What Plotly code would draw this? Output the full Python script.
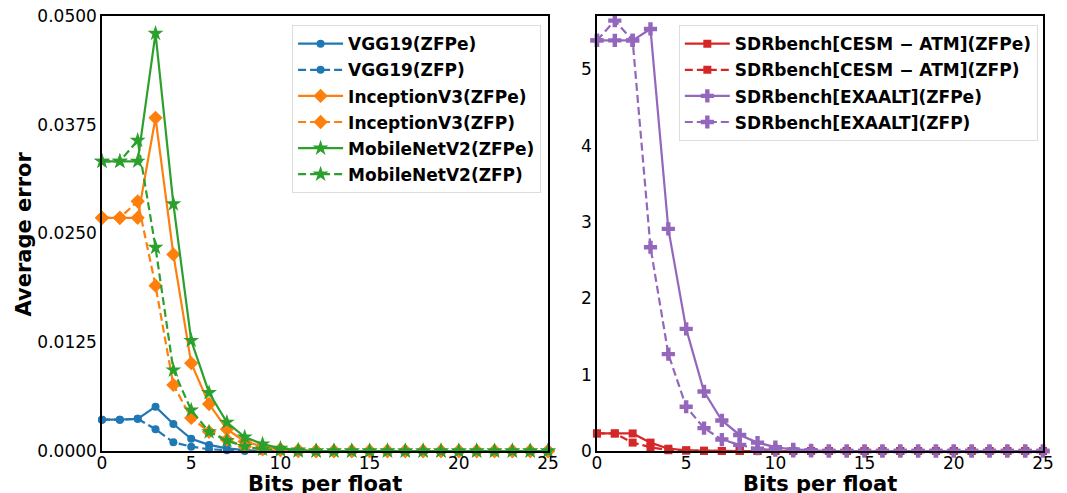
import plotly.graph_objects as go

bits = list(range(26))

vgg_zfpe = [0.0036, 0.0036, 0.0037, 0.0051, 0.0031, 0.0014, 0.0007, 0.0003, 0.0001] + [0.0] * 17
vgg_zfp = [0.0036, 0.0036, 0.0037, 0.0025, 0.0010, 0.0005, 0.0002, 0.0001] + [0.0] * 18
inc_zfpe = [0.0268, 0.0268, 0.0268, 0.0383, 0.0226, 0.0101, 0.0054, 0.0025, 0.0011, 0.0005, 0.0002, 0.0001] + [0.0] * 14
inc_zfp = [0.0268, 0.0268, 0.0287, 0.0190, 0.0076, 0.0038, 0.0022, 0.0013, 0.0005, 0.0002, 0.0001] + [0.0] * 15
mob_zfpe = [0.0333, 0.0333, 0.0333, 0.0480, 0.0284, 0.0127, 0.0067, 0.0033, 0.0016, 0.0008, 0.0003, 0.0001] + [0.0] * 14
mob_zfp = [0.0333, 0.0333, 0.0357, 0.0234, 0.0093, 0.0047, 0.0022, 0.0012, 0.0005, 0.0002, 0.0001] + [0.0] * 15

cesm_zfpe = [0.23, 0.23, 0.23, 0.11, 0.03, 0.01, 0.005] + [0.0] * 19
cesm_zfp = [0.23, 0.23, 0.11, 0.05, 0.01, 0.005] + [0.0] * 20
exa_zfpe = [5.38, 5.38, 5.38, 5.53, 2.91, 1.60, 0.78, 0.40, 0.21, 0.11, 0.05, 0.02, 0.01] + [0.0] * 13
exa_zfp = [5.38, 5.64, 5.38, 2.67, 1.27, 0.58, 0.30, 0.15, 0.08, 0.03, 0.01] + [0.0] * 15

left_ticks = [0, 0.0125, 0.025, 0.0375, 0.05]
left_ticktext = ["0.0000", "0.0125", "0.0250", "0.0375", "0.0500"]
x_ticks = [0, 5, 10, 15, 20, 25]
right_ticks = [0, 1, 2, 3, 4, 5]

BLUE, ORANGE, GREEN, RED, PURPLE = "#1f77b4", "#ff7f0e", "#2ca02c", "#d62728", "#9467bd"

fig = go.Figure()

def add(y, name, color, symbol, dash, xa, ya, legend, msize=8):
    fig.add_trace(go.Scatter(
        x=bits, y=y, name=name, mode="lines+markers", legendgroup=name,
        line=dict(color=color, width=2.2, dash=dash),
        marker=dict(color=color, symbol=symbol, size=msize, line=dict(width=0)),
        xaxis=xa, yaxis=ya, legend=legend, cliponaxis=False))

DASH = "8px,4px"
add(vgg_zfpe, "VGG19(ZFPe)", BLUE, "circle", "solid", "x", "y", "legend", 8)
add(vgg_zfp, "VGG19(ZFP)", BLUE, "circle", DASH, "x", "y", "legend", 8)
add(inc_zfpe, "InceptionV3(ZFPe)", ORANGE, "diamond", "solid", "x", "y", "legend", 11)
add(inc_zfp, "InceptionV3(ZFP)", ORANGE, "diamond", DASH, "x", "y", "legend", 11)
add(mob_zfpe, "MobileNetV2(ZFPe)", GREEN, "star", "solid", "x", "y", "legend", 12)
add(mob_zfp, "MobileNetV2(ZFP)", GREEN, "star", DASH, "x", "y", "legend", 12)

add(cesm_zfpe, "SDRbench[CESM − ATM](ZFPe)", RED, "square", "solid", "x2", "y2", "legend2", 8)
add(cesm_zfp, "SDRbench[CESM − ATM](ZFP)", RED, "square", DASH, "x2", "y2", "legend2", 8)
add(exa_zfpe, "SDRbench[EXAALT](ZFPe)", PURPLE, "cross", "solid", "x2", "y2", "legend2", 11)
add(exa_zfp, "SDRbench[EXAALT](ZFP)", PURPLE, "cross", DASH, "x2", "y2", "legend2", 11)

axis_common = dict(showline=True, linecolor="black", linewidth=1.5, mirror=True,
                   ticks="", ticklabeloverflow="allow", showgrid=False,
                   zeroline=False, automargin=False,
                   tickfont=dict(size=17, color="black", family="DejaVu Sans"))

title_font = dict(size=21, family="DejaVu Sans", color="black", weight="bold")
legend_font = dict(size=17, family="DejaVu Sans", color="black", weight="bold")

# page body has an 8px margin, so the figure is sized and placed to compensate
fig.update_layout(
    width=1059, height=485,
    margin=dict(l=94, r=24, t=8, b=42),
    paper_bgcolor="white", plot_bgcolor="white",
    font=dict(family="DejaVu Sans", color="black"),
    xaxis=dict(domain=[0, 0.474], range=[0, 25], tickvals=x_ticks, ticklabelstandoff=-4, **axis_common),
    yaxis=dict(domain=[0, 1], range=[0, 0.05], tickvals=left_ticks, ticktext=left_ticktext,
               ticklabelstandoff=0, **axis_common),
    xaxis2=dict(domain=[0.526, 1], range=[0, 25], tickvals=x_ticks, anchor="y2",
                ticklabelstandoff=-4, **axis_common),
    yaxis2=dict(domain=[0, 1], range=[0, 5.7], tickvals=right_ticks, anchor="x2",
                ticklabelstandoff=0, **axis_common),
    legend=dict(x=0.202, y=0.979, xref="paper", yref="paper", xanchor="left", yanchor="top",
                bgcolor="rgba(255,255,255,0.8)", bordercolor="#dddddd", borderwidth=1,
                font=legend_font, tracegroupgap=1, itemwidth=45),
    legend2=dict(x=0.613, y=0.979, xref="paper", yref="paper", xanchor="left", yanchor="top",
                 bgcolor="rgba(255,255,255,0.8)", bordercolor="#dddddd", borderwidth=1,
                 font=legend_font, tracegroupgap=1, itemwidth=45),
    annotations=[
        dict(text="Bits per float", x=0.237, y=-0.0437, xref="paper", yref="paper",
             xanchor="center", yanchor="top", showarrow=False, font=title_font),
        dict(text="Bits per float", x=0.763, y=-0.0437, xref="paper", yref="paper",
             xanchor="center", yanchor="top", showarrow=False, font=title_font),
        dict(text="Average error", x=-0.0829, y=0.5, xref="paper", yref="paper",
             xanchor="center", yanchor="middle", textangle=-90, showarrow=False, font=title_font),
    ],
)

fig.write_html("out.html")
